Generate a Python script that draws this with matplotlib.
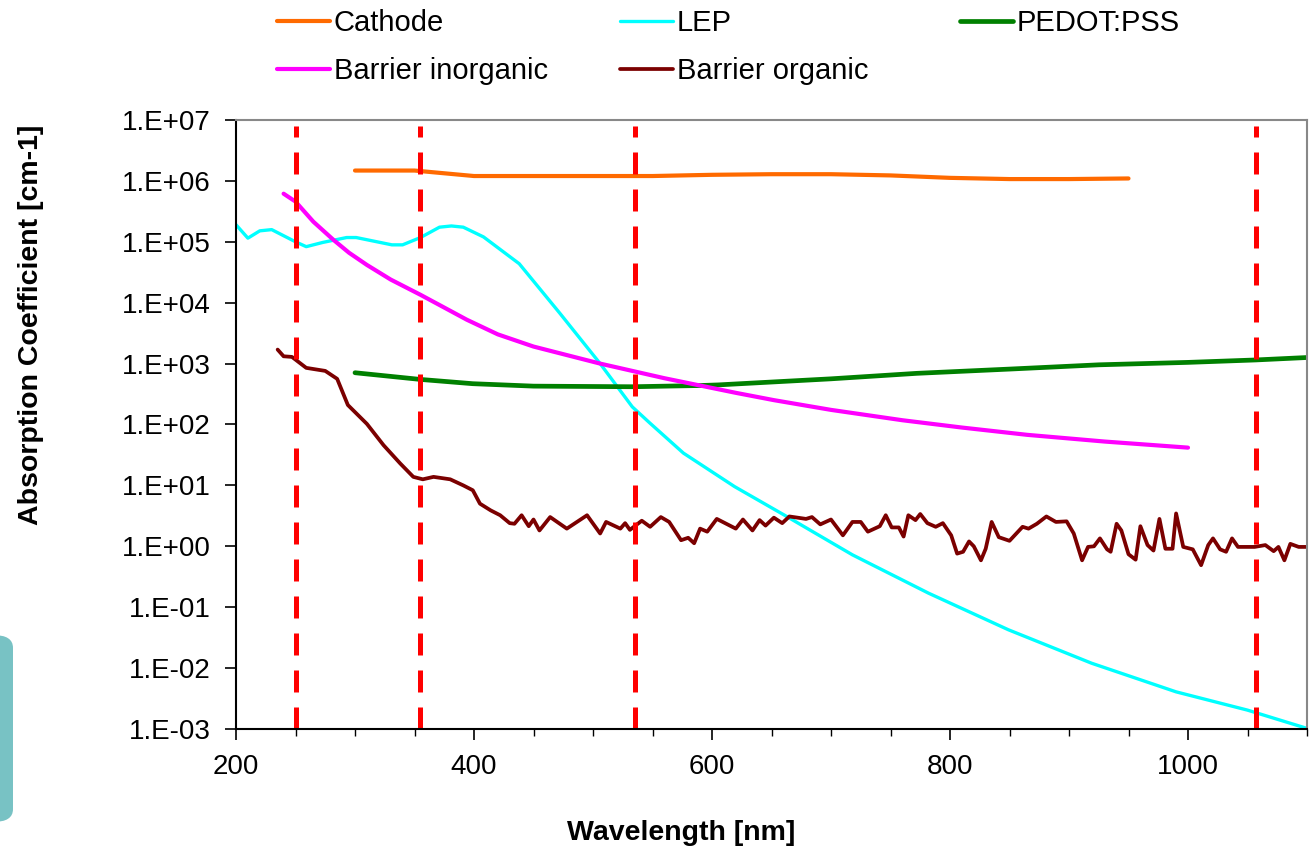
import matplotlib
matplotlib.use("Agg")
import matplotlib.pyplot as plt
from matplotlib.ticker import FixedLocator, FuncFormatter, MultipleLocator
from matplotlib.patches import FancyBboxPatch
import numpy as np

plt.rcParams['font.family'] = ['Liberation Sans', 'DejaVu Sans']

# Cathode
cathode_x = [300, 350, 400, 450, 500, 550, 600, 650, 700, 750, 800, 850, 900, 950]
cathode_log = [6.17, 6.17, 6.08, 6.08, 6.08, 6.08, 6.10, 6.11, 6.11, 6.09, 6.05, 6.03, 6.03, 6.04]

# LEP
lep_x = [200, 210, 220, 230, 250, 259, 273, 293, 301, 331, 340, 355, 371, 381, 391, 408,
         438, 472, 506, 533, 548, 576, 619, 661, 718, 782, 849, 919, 990, 1050, 1100]
lep_log = [5.28, 5.06, 5.18, 5.20, 5.00, 4.92, 4.99, 5.07, 5.07, 4.95, 4.95, 5.07, 5.24, 5.26, 5.24, 5.08,
           4.64, 3.83, 3.00, 2.29, 2.02, 1.53, 0.98, 0.51, -0.14, -0.77, -1.37, -1.92, -2.39, -2.69, -2.99]

# PEDOT:PSS
pedot_x = [300, 355, 399, 450, 533, 590, 605, 700, 772, 850, 925, 1000, 1057, 1100]
pedot_log = [2.85, 2.74, 2.67, 2.63, 2.62, 2.64, 2.65, 2.75, 2.84, 2.91, 2.98, 3.02, 3.06, 3.10]

# Barrier inorganic
inorg_x = [240, 250, 265, 282, 295, 310, 330, 355, 375, 394, 420, 450, 480, 506, 533, 560, 590,
           620, 652, 700, 760, 810, 865, 930, 1000]
inorg_log = [5.79, 5.66, 5.33, 5.03, 4.82, 4.62, 4.38, 4.13, 3.92, 3.72, 3.48, 3.28, 3.13, 3.00, 2.88,
             2.76, 2.64, 2.52, 2.40, 2.24, 2.07, 1.95, 1.83, 1.72, 1.62]

# Barrier organic
org_x = [235, 240, 247, 259, 275, 285, 294, 310, 324, 338, 349, 357, 366, 380, 391, 399,
         405, 414, 422, 430, 434, 440, 446, 450, 455, 464, 478, 495, 506, 511, 523, 527,
         531, 541, 548, 557, 564, 574, 580, 585, 590, 596, 604, 611, 620, 626, 634, 640,
         645, 652, 659, 665, 679, 684, 691, 700, 710, 718, 725, 731, 741, 746, 751, 757,
         761, 765, 771, 775, 781, 788, 794, 801, 806, 811, 816, 820, 826, 830, 835, 841,
         850, 861, 866, 873, 881, 889, 898, 904, 911, 916, 921, 926, 932, 935, 940, 944,
         950, 956, 960, 966, 971, 976, 981, 987, 990, 996, 1004, 1011, 1017, 1021, 1027,
         1032, 1037, 1042, 1056, 1065, 1072, 1076, 1081, 1086, 1093, 1100]
org_log = [3.23, 3.12, 3.11, 2.93, 2.88, 2.75, 2.32, 2.01, 1.66, 1.36, 1.14, 1.10, 1.14, 1.10, 1.00, 0.92,
           0.70, 0.59, 0.51, 0.38, 0.37, 0.51, 0.33, 0.44, 0.26, 0.48, 0.29, 0.51, 0.21, 0.40, 0.29, 0.38,
           0.27, 0.42, 0.32, 0.48, 0.40, 0.10, 0.14, 0.05, 0.29, 0.24, 0.45, 0.38, 0.29, 0.44, 0.26, 0.43,
           0.34, 0.47, 0.38, 0.49, 0.45, 0.48, 0.36, 0.44, 0.18, 0.40, 0.40, 0.24, 0.33, 0.51, 0.31, 0.31,
           0.16, 0.51, 0.43, 0.53, 0.38, 0.32, 0.38, 0.18, -0.12, -0.09, 0.08, 0.00, -0.23, -0.04, 0.40, 0.15,
           0.09, 0.32, 0.29, 0.37, 0.49, 0.40, 0.41, 0.21, -0.23, -0.01, 0.00, 0.13, -0.05, -0.09, 0.37, 0.26,
           -0.13, -0.22, 0.33, 0.02, -0.07, 0.45, -0.04, -0.04, 0.54, -0.01, -0.05, -0.31, 0.02, 0.13, -0.05,
           -0.09, 0.13, -0.01, -0.01, 0.02, -0.08, -0.01, -0.23, 0.04, -0.01, -0.01]

# dashed markers
marker_x = [250, 355, 535, 1057]

series = [
    ("Cathode", cathode_x, cathode_log, "#FF6A00", 3.0),
    ("LEP", lep_x, lep_log, "#00FFFF", 2.4),
    ("PEDOT:PSS", pedot_x, pedot_log, "#008000", 3.4),
    ("Barrier inorganic", inorg_x, inorg_log, "#FF00FF", 3.0),
    ("Barrier organic", org_x, org_log, "#7B0000", 2.7),
]

fig = plt.figure(figsize=(13.13, 8.52), dpi=100)
W, H = 1313, 852
ax = fig.add_axes([236 / W, 1 - 729 / H, (1307 - 236) / W, (729 - 120) / H])

lines = {}
for name, xs, ls, col, lw in series:
    lines[name], = ax.plot(xs, 10 ** np.array(ls), color=col, lw=lw, label=name, solid_capstyle='round')

for mx in marker_x:
    ax.axvline(mx, color="#FF0000", lw=3.6, dashes=(4.4, 3.0), ymin=0, ymax=0.99)

ax.set_yscale('log')
ax.set_xlim(200, 1100)
ax.set_ylim(1e-3, 1e7)
ax.yaxis.set_major_locator(FixedLocator([10.0 ** k for k in range(-3, 8)]))
ax.yaxis.set_minor_locator(FixedLocator([]))
ax.yaxis.set_major_formatter(FuncFormatter(lambda v, p: "1.E%+03d" % int(round(np.log10(v)))))
ax.xaxis.set_major_locator(FixedLocator([200, 400, 600, 800, 1000]))
ax.xaxis.set_minor_locator(MultipleLocator(50))

ax.tick_params(axis='both', which='major', labelsize=20, direction='out', length=8, width=1.2, color='black')
ax.tick_params(axis='x', which='minor', direction='out', length=5, width=1.0)
ax.tick_params(axis='x', pad=10)
ax.tick_params(axis='y', pad=10)
for s in ['left', 'bottom']:
    ax.spines[s].set_color('black')
    ax.spines[s].set_linewidth(1.5)
for s in ['top', 'right']:
    ax.spines[s].set_color('#888888')
    ax.spines[s].set_linewidth(1.5)

# axis titles sit off-centre in the original
fig.text(681 / W, 1 - 833 / H, "Wavelength [nm]", fontsize=20.5, fontweight='bold',
         ha='center', va='center')
fig.text(31 / W, 1 - 325 / H, "Absorption Coefficient [cm-1]", fontsize=20.5, fontweight='bold',
         ha='center', va='center', rotation=90)

# legend: one block per column, rows read left to right
legend_cols = [
    (["Cathode", "Barrier inorganic"], 277),
    (["LEP", "Barrier organic"], 620),
    (["PEDOT:PSS"], 960),
]
for names, xpix in legend_cols:
    fig.legend([lines[n] for n in names], names, loc='upper left',
               bbox_to_anchor=(xpix / W, 1 - 9 / H), frameon=False,
               fontsize=21, handlelength=1.8, handletextpad=0.15,
               labelspacing=0.69, borderpad=0, borderaxespad=0)

# decoration at left edge
box = FancyBboxPatch((-30 / W, 1 - 822 / H), 43 / W, 187 / H,
                     boxstyle="round,pad=0,rounding_size=0.015", transform=fig.transFigure,
                     facecolor="#78C2C4", edgecolor='none')
fig.patches.append(box)

fig.savefig("out.png", dpi=100)
